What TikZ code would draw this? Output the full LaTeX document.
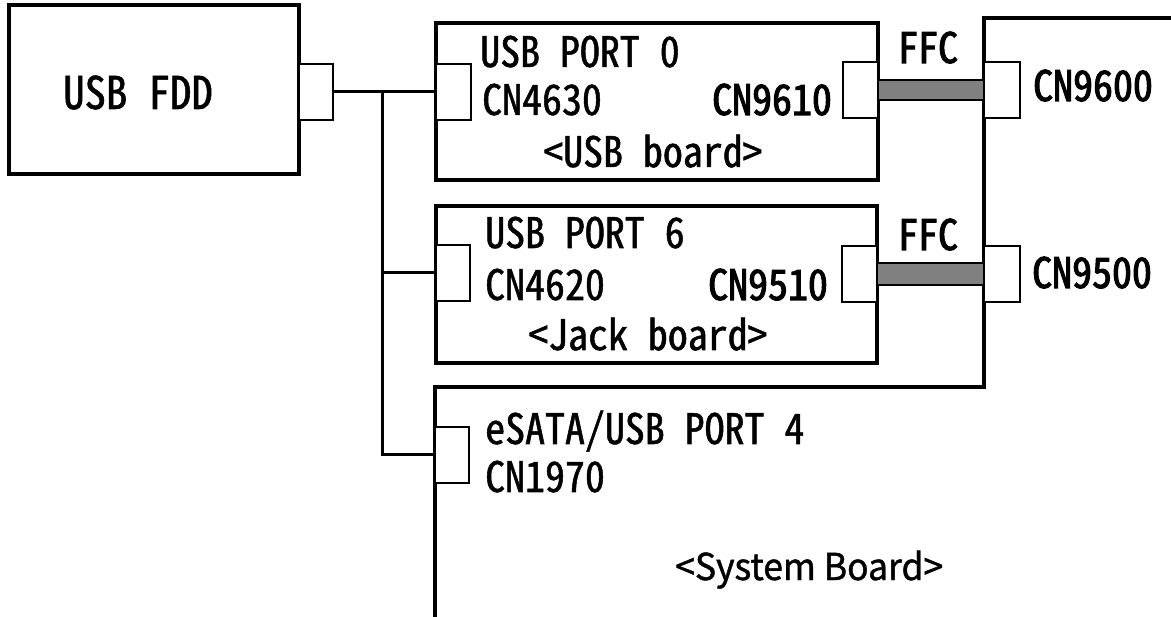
\documentclass[tikz,border=0pt]{standalone}
\usepackage{fontspec}
\usetikzlibrary{calc}
\newfontfamily\gothic[RawFeature=+hwid, FakeBold=1.2, FakeStretch=0.95]{Noto Sans CJK JP}
\newfontfamily\gothicb[RawFeature=+hwid, FakeBold=2.4, FakeStretch=0.95]{Noto Sans CJK JP}
\newfontfamily\pgothic[FakeStretch=0.96, FakeBold=1.2]{Noto Sans CJK JP}
\begin{document}
\begin{tikzpicture}[x=1pt,y=-1pt,
  board/.style={draw, line width=3.2pt, anchor=north west, inner sep=0pt, outer sep=0pt},
  conn/.style={draw, line width=2.8pt, anchor=north west, inner sep=0pt, outer sep=0pt, fill=white,
               minimum width=35pt, minimum height=56pt},
  wire/.style={line width=3pt},
  band/.style={draw, line width=2.2pt, fill=gray},
  lbl/.style={anchor=base west, inner sep=0pt, font=\gothic\fontsize{42}{48}\selectfont},
  blbl/.style={lbl, font=\gothicb\fontsize{42}{48}\selectfont},
  biglbl/.style={anchor=base west, inner sep=0pt, font=\gothic\fontsize{45}{50}\selectfont},
  plbl/.style={anchor=base west, inner sep=0pt, font=\pgothic\fontsize{37}{44}\selectfont}]
\useasboundingbox (0,0) rectangle (1171,617);

% system board outline
\draw[line width=3.2pt] (1171,18) -- (984,18) -- (984,387) -- (435,387) -- (435,617);

% boards
\node[board, minimum width=290pt, minimum height=169pt] (fdd) at (9,5) {};
\node[board, minimum width=442pt, minimum height=157pt] (usbb) at (436,23) {};
\node[board, minimum width=441pt, minimum height=157pt] (jackb) at (436,206) {};

% connectors
\node[conn, minimum width=34pt] (fddc) at (299,64) {};
\node[conn] (c4630) at (436,64) {};
\node[conn] (c9610) at (843,62) {};
\node[conn, minimum width=36pt] (c9600) at (984,62) {};
\node[conn, minimum width=34pt] (c4620) at (436,245) {};
\node[conn] (c9510) at (842,246) {};
\node[conn, minimum width=36pt] (c9500) at (984,246) {};
\node[conn, minimum width=34pt] (c1970) at (435,427) {};

% wires
\coordinate (j1) at (382,0 |- fddc.east);
\draw[wire] (fddc.east) -- (c4630.west);
\draw[wire] (j1) -- (j1 |- c1970.west) -- (c1970.west);
\draw[wire] (j1 |- c4620.west) -- (c4620.west);

% FFC bands
\draw[band] ($(c9610.east)+(0,-10)$) rectangle ($(c9600.west)+(0,10)$);
\draw[band] ($(c9510.east)+(0,-11)$) rectangle ($(c9500.west)+(0,11)$);

% labels
\node[biglbl] (tfdd) at (63,109) {USB FDD};
\node[lbl] (tp0) at (480,67) {USB PORT 0};
\node[lbl] (t4630) at (482,115) {CN4630};
\node[blbl] (t9610) at (712,115) {CN9610};
\node[lbl] (tusb) at (543,167) {<USB board>};
\node[blbl] (tffc1) at (898,63) {FFC};
\node[blbl] (t9600) at (1033,101) {CN9600};
\node[lbl] (tp6) at (485,248) {USB PORT 6};
\node[lbl] (t4620) at (485,300) {CN4620};
\node[blbl] (t9510) at (708,300) {CN9510};
\node[lbl] (tjack) at (528,350) {<Jack board>};
\node[blbl] (tffc2) at (898,250) {FFC};
\node[blbl] (t9500) at (1032,288) {CN9500};
\node[lbl] (tp4) at (485,444) {eSATA/USB PORT 4};
\node[lbl] (t1970) at (485,492) {CN1970};
\node[plbl] (tsys) at (675,580) {<System Board>};
\end{tikzpicture}
\end{document}
